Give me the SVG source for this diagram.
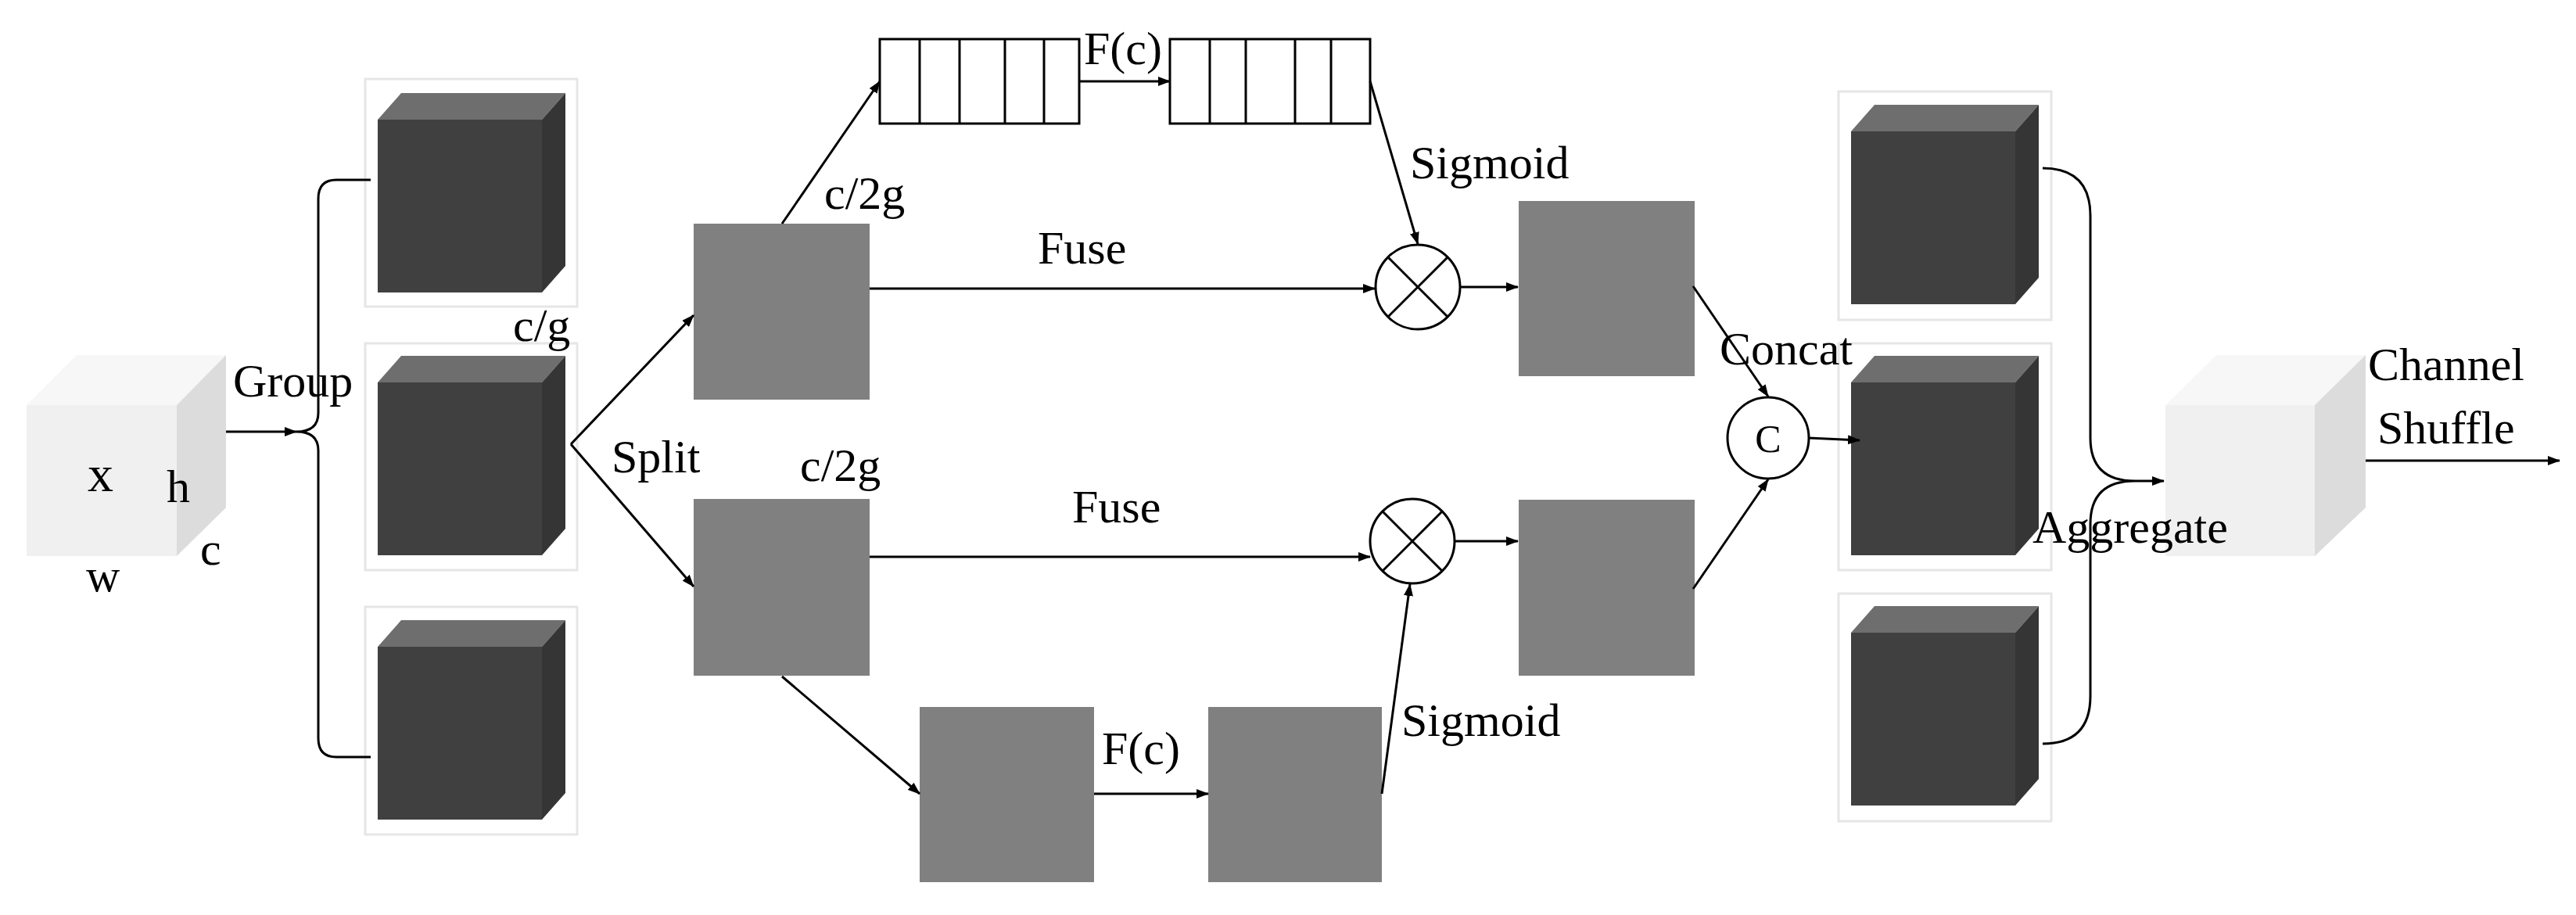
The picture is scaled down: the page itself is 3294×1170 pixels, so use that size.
<svg xmlns="http://www.w3.org/2000/svg" width="3294" height="1170" viewBox="0 0 3294 1170">
<style>
text{font-family:"Liberation Serif",serif;font-size:60px;fill:#000}
.ln{stroke:#000;stroke-width:3;fill:none}
.fr{fill:#fff;stroke:#e6e6e6;stroke-width:3}
.df{fill:#404040}.dt{fill:#6e6e6e}.ds{fill:#353535}
.g{fill:#808080}
.lf{fill:#f0f0f0}.lt{fill:#f7f7f7}.ls{fill:#dcdcdc}
.st{fill:#fff;stroke:#000;stroke-width:3}
</style>
<defs>
<marker id="a" markerWidth="16" markerHeight="12" refX="15" refY="6" orient="auto" markerUnits="userSpaceOnUse"><path d="M0,0L16,6L0,12z" fill="#000"/></marker>
<g id="dc"><polygon class="dt" points="0,0 210,0 240,-34 30,-34"/><polygon class="ds" points="210,0 240,-34 240,187 210,221"/><rect class="df" width="210" height="221"/></g>
</defs>
<rect width="3294" height="1170" fill="#fff"/>
<g id="input"><polygon class="lt" points="34,518 226,518 289,454 98,454"/><polygon class="ls" points="226,518 289,454 289,649 226,711"/><rect class="lf" x="34" y="518" width="192" height="193"/>
<text x="112" y="628" style="font-size:66px">x</text><text x="213" y="642">h</text><text x="256" y="722">c</text><text x="110" y="756">w</text></g>
<g id="g1"><rect class="fr" x="467" y="101" width="271" height="291"/><use href="#dc" x="483" y="153"/></g>
<g id="g2"><rect class="fr" x="467" y="439" width="271" height="290"/><use href="#dc" x="483" y="489"/></g>
<g id="g3"><rect class="fr" x="467" y="776" width="271" height="291"/><use href="#dc" x="483" y="827"/></g>
<g id="pt"><rect class="g" x="887" y="286" width="225" height="225"/></g>
<g id="pb"><rect class="g" x="887" y="638" width="225" height="226"/></g>
<g id="s1"><rect class="st" x="1125" y="50" width="255" height="108"/><path class="ln" d="M1176,50V158M1227,50V158M1285,50V158M1335,50V158"/></g>
<g id="s2"><rect class="st" x="1496" y="50" width="256" height="108"/><path class="ln" d="M1547,50V158M1593,50V158M1656,50V158M1702,50V158"/></g>
<g id="m1"><circle class="st" cx="1813" cy="367" r="54"/><path class="ln" d="M1775,329L1851,405M1851,329L1775,405"/></g>
<g id="m2"><circle class="st" cx="1806" cy="692" r="54"/><path class="ln" d="M1768,654L1844,730M1844,654L1768,730"/></g>
<g id="rt"><rect class="g" x="1942" y="257" width="225" height="224"/></g>
<g id="rb"><rect class="g" x="1942" y="639" width="225" height="225"/></g>
<g id="ba"><rect class="g" x="1176" y="904" width="223" height="224"/></g>
<g id="bb"><rect class="g" x="1545" y="904" width="222" height="224"/></g>
<g id="cc"><circle class="st" cx="2261" cy="560" r="52"/><text x="2261" y="578" text-anchor="middle" style="font-size:50px">C</text></g>
<g id="o1"><rect class="fr" x="2351" y="117" width="272" height="292"/><use href="#dc" x="2367" y="168"/></g>
<g id="o2"><rect class="fr" x="2351" y="439" width="272" height="290"/><use href="#dc" x="2367" y="489"/></g>
<g id="o3"><rect class="fr" x="2351" y="759" width="272" height="291"/><use href="#dc" x="2367" y="809"/></g>
<g id="out"><polygon class="lt" points="2769,518 2960,518 3025,454 2834,454"/><polygon class="ls" points="2960,518 3025,454 3025,649 2960,711"/><rect class="lf" x="2769" y="518" width="191" height="193"/></g>
<g id="connectors">
<path class="ln" marker-end="url(#a)" d="M289,552H379"/>
<path class="ln" d="M474,230H430Q407,230 407,254V528Q407,552 379,552Q407,552 407,576V944Q407,968 430,968H474"/>
<path class="ln" marker-end="url(#a)" d="M730,568L887,403"/>
<path class="ln" marker-end="url(#a)" d="M730,568L887,750"/>
<path class="ln" marker-end="url(#a)" d="M1000,286L1125,104"/>
<path class="ln" marker-end="url(#a)" d="M1380,104H1496"/>
<path class="ln" marker-end="url(#a)" d="M1752,104L1813,312"/>
<path class="ln" marker-end="url(#a)" d="M1112,369H1758"/>
<path class="ln" marker-end="url(#a)" d="M1867,367H1941"/>
<path class="ln" marker-end="url(#a)" d="M1112,712H1752"/>
<path class="ln" marker-end="url(#a)" d="M1860,692H1941"/>
<path class="ln" marker-end="url(#a)" d="M1000,865L1176,1015"/>
<path class="ln" marker-end="url(#a)" d="M1399,1015H1545"/>
<path class="ln" marker-end="url(#a)" d="M1767,1015L1803,747"/>
<path class="ln" marker-end="url(#a)" d="M2165,366L2261,507"/>
<path class="ln" marker-end="url(#a)" d="M2165,753L2261,613"/>
<path class="ln" marker-end="url(#a)" d="M2313,560L2378,563"/>
<path class="ln" d="M2612,215Q2673,215 2673,276V560Q2673,615 2730,615M2612,951Q2673,951 2673,890V670Q2673,615 2730,615"/>
<path class="ln" marker-end="url(#a)" d="M2730,615H2767"/>
<path class="ln" marker-end="url(#a)" d="M3025,589H3273"/>
</g>
<g id="labels">
<text x="298" y="507">Group</text>
<text x="656" y="436">c/g</text>
<text x="782" y="604">Split</text>
<text x="1386" y="82">F(c)</text>
<text x="1054" y="267">c/2g</text>
<text x="1023" y="615">c/2g</text>
<text x="1327" y="337">Fuse</text>
<text x="1371" y="668">Fuse</text>
<text x="1803" y="228">Sigmoid</text>
<text x="1409" y="977">F(c)</text>
<text x="1792" y="941">Sigmoid</text>
<text x="2199" y="466">Concat</text>
<text x="2599" y="694">Aggregate</text>
<text x="3028" y="486">Channel</text>
<text x="3040" y="567">Shuffle</text>
</g>
</svg>
